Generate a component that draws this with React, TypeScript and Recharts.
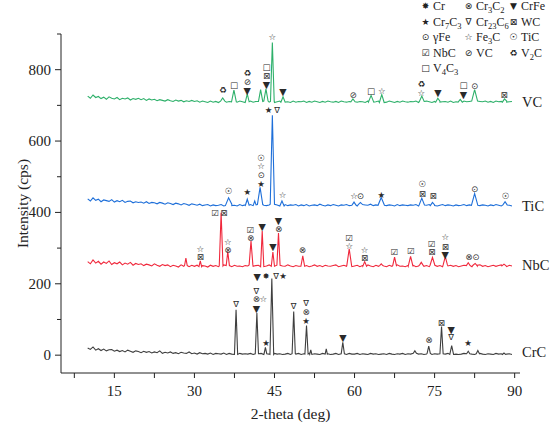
import { ComposedChart, Line, Scatter, XAxis, YAxis } from "recharts";

// baseline readings every 0.5 deg from 10 to 89.5
const gridStart = 10;
const gridStep = 0.5;

const crcBase = [
  20, 16, 23, 14, 18, 13, 17, 12, 15, 16, 11, 14, 10, 13, 9, 14, 11, 8, 12, 10,
  7, 11, 8, 10, 6, 9, 7, 12, 5, 8, 6, 9, 5, 7, 4, 8, 6, 5, 9, 4,
  6, 3, 7, 4, 5, 3, 6, 2, 5, 4, 3, 6, 2, 5, 3, 4, 2, 5, 3, 4,
  3, 5, 2, 4, 3, 5, 2, 4, 3, 2, 5, 3, 4, 2, 3, 5, 2, 4, 3, 5,
  2, 4, 3, 5, 2, 4, 3, 2, 5, 3, 4, 2, 3, 5, 2, 3, 4, 2, 5, 3,
  3, 5, 2, 4, 3, 2, 5, 3, 4, 2, 3, 4, 2, 5, 3, 2, 4, 3, 5, 2,
  4, 3, 2, 5, 3, 4, 2, 3, 5, 2, 4, 3, 2, 4, 3, 5, 2, 4, 3, 2,
  3, 5, 2, 4, 3, 2, 4, 5, 3, 2, 4, 3, 2, 5, 3, 4, 2, 3, 4, 2,
];

const nbcBase = [
  262, 256, 267, 258, 263, 255, 261, 257, 264, 254, 259, 256, 261, 253, 258, 255, 260, 252, 257, 254,
  256, 251, 255, 253, 250, 256, 252, 249, 254, 251, 253, 248, 252, 250, 247, 253, 249, 251, 248, 252,
  249, 252, 248, 251, 250, 247, 252, 249, 251, 248, 250, 253, 249, 251, 248, 252, 249, 250, 248, 251,
  250, 253, 249, 251, 252, 248, 251, 250, 253, 249, 251, 248, 252, 250, 249, 253, 250, 248, 251, 249,
  252, 249, 251, 248, 250, 253, 249, 251, 248, 252, 250, 249, 251, 253, 248, 250, 252, 249, 251, 248,
  250, 252, 248, 251, 249, 253, 250, 248, 252, 249, 251, 250, 248, 252, 249, 251, 253, 249, 250, 248,
  251, 249, 252, 248, 250, 253, 249, 251, 248, 252, 250, 249, 251, 248, 253, 250, 252, 249, 251, 248,
  250, 252, 249, 251, 248, 252, 250, 253, 249, 251, 248, 250, 252, 249, 251, 253, 250, 248, 252, 250,
];

const ticBase = [
  438, 432, 441, 434, 437, 430, 435, 433, 431, 436, 429, 433, 430, 434, 428, 431, 432, 427, 430, 428,
  429, 426, 430, 425, 428, 427, 424, 428, 426, 423, 427, 425, 422, 426, 424, 421, 425, 423, 420, 424,
  422, 420, 423, 419, 421, 422, 418, 421, 419, 420, 422, 418, 421, 419, 423, 420, 418, 422, 419, 421,
  420, 422, 419, 421, 418, 422, 420, 419, 421, 423, 419, 421, 420, 418, 422, 419, 421, 420, 422, 418,
  421, 419, 422, 418, 420, 421, 419, 423, 420, 418, 421, 419, 422, 420, 418, 421, 420, 422, 419, 421,
  420, 418, 422, 419, 421, 420, 423, 419, 421, 418, 420, 422, 419, 421, 420, 418, 422, 419, 421, 420,
  419, 421, 420, 422, 418, 421, 419, 420, 422, 419, 421, 418, 420, 422, 419, 421, 420, 418, 421, 419,
  420, 422, 419, 421, 418, 420, 422, 419, 421, 420, 418, 421, 419, 422, 420, 418, 421, 419, 420, 418,
];

const vcBase = [
  726, 720, 729, 722, 725, 719, 723, 717, 724, 720, 718, 722, 716, 720, 718, 721, 715, 719, 717, 720,
  716, 719, 714, 718, 715, 717, 713, 716, 714, 712, 716, 713, 711, 715, 712, 714, 710, 713, 711, 714,
  711, 713, 709, 712, 710, 708, 712, 709, 711, 708, 710, 712, 709, 711, 708, 710, 709, 712, 710, 708,
  710, 712, 709, 711, 708, 711, 710, 712, 709, 711, 708, 710, 712, 709, 711, 710, 708, 712, 709, 711,
  710, 712, 708, 711, 709, 712, 710, 708, 711, 709, 712, 710, 709, 711, 708, 712, 710, 709, 711, 710,
  712, 709, 711, 710, 708, 712, 709, 711, 710, 712, 708, 711, 709, 712, 710, 708, 711, 709, 712, 710,
  709, 711, 710, 712, 708, 711, 709, 712, 710, 708, 711, 709, 712, 710, 711, 709, 712, 708, 710, 711,
  709, 712, 710, 711, 708, 712, 709, 711, 710, 712, 709, 711, 708, 712, 710, 711, 709, 712, 710, 711,
];

// peaks: [2-theta, top intensity, half width at base]
const crcPeaks = [
  [37.8, 127, 0.3], [41.7, 118, 0.3], [43.3, 22, 0.25], [44.5, 215, 0.35], [48.6, 122, 0.3],
  [51.0, 83, 0.3], [51.8, 15, 0.2], [54.7, 18, 0.2], [57.8, 36, 0.3], [71.3, 12, 0.3],
  [73.9, 25, 0.3], [76.3, 80, 0.3], [78.2, 27, 0.35], [81.3, 11, 0.3], [83.1, 13, 0.3], [88.0, 6, 0.3],
];

const nbcPeaks = [
  [28.4, 272, 0.25], [31.1, 264, 0.25], [35.0, 399, 0.35], [36.25, 290, 0.3], [40.6, 320, 0.35],
  [42.7, 348, 0.3], [44.7, 289, 0.3], [45.75, 342, 0.3], [50.3, 278, 0.35], [59.0, 298, 0.45],
  [61.9, 262, 0.35], [65.0, 256, 0.3], [67.5, 275, 0.35], [70.5, 277, 0.45], [72.5, 260, 0.3],
  [74.6, 274, 0.45], [77.0, 276, 0.4], [81.3, 259, 0.35], [82.6, 257, 0.4], [88.0, 255, 0.4],
];

const ticPeaks = [
  [36.4, 441, 0.6], [39.9, 437, 0.35], [41.3, 432, 0.25], [42.3, 470, 0.5], [44.6, 672, 0.4],
  [46.4, 432, 0.4], [59.9, 429, 0.4], [61.1, 428, 0.4], [65.0, 442, 0.6], [72.6, 440, 0.5],
  [74.6, 428, 0.4], [82.5, 453, 0.6], [88.2, 430, 0.4],
];

const vcPeaks = [
  [35.3, 721, 0.4], [37.4, 743, 0.45], [39.9, 732, 0.35], [42.4, 744, 0.4], [43.4, 746, 0.4],
  [44.6, 876, 0.35], [46.6, 724, 0.4], [59.7, 718, 0.4], [63.1, 728, 0.5], [65.1, 730, 0.45],
  [72.6, 726, 0.45], [75.6, 720, 0.4], [79.8, 717, 0.4], [82.5, 744, 0.55], [88.1, 718, 0.4],
];

// phase marks above peaks: [2-theta, intensity, phase]
const vcMarks = [
  [35.3, 743, "V2C"], [37.4, 757, "V4C3"], [39.9, 791, "V2C"], [39.9, 766, "VC"], [39.9, 742, "CrFe"],
  [43.5, 808, "V4C3"], [43.5, 783, "WC"], [43.5, 758, "CrFe"], [44.6, 891, "Fe3C"], [46.6, 740, "CrFe"],
  [59.7, 729, "VC"], [63.1, 741, "V4C3"], [65.1, 741, "Fe3C"], [72.5, 760, "V2C"], [72.5, 734, "Fe3C"],
  [75.6, 735, "CrFe"], [80.4, 756, "V4C3"], [80.4, 731, "CrFe"], [82.5, 754, "gFe"], [88.0, 729, "WC"],
];

const ticMarks = [
  [43.9, 686, "Cr7C3"], [45.5, 686, "Cr23C6"], [36.4, 459, "TiC"], [39.9, 457, "Cr7C3"],
  [42.5, 553, "TiC"], [42.5, 529, "Fe3C"], [42.5, 505, "gFe"], [42.5, 480, "Cr7C3"],
  [46.5, 450, "Fe3C"], [59.9, 446, "Fe3C"], [61.1, 446, "gFe"], [65.0, 450, "Cr7C3"],
  [72.7, 479, "TiC"], [72.7, 453, "WC"], [74.7, 446, "WC"], [82.5, 466, "gFe"], [88.3, 446, "TiC"],
];

const nbcMarks = [
  [33.9, 397, "NbC"], [35.5, 397, "WC"], [31.1, 298, "Fe3C"], [31.1, 276, "WC"], [36.25, 318, "Fe3C"],
  [36.25, 296, "Cr3C2"], [40.5, 352, "NbC"], [40.5, 329, "Cr3C2"], [42.7, 361, "CrFe"], [45.75, 377, "CrFe"],
  [45.75, 353, "Cr3C2"], [44.7, 305, "CrFe"], [50.2, 294, "Cr3C2"], [59.0, 328, "NbC"], [59.0, 305, "Fe3C"],
  [61.9, 294, "Fe3C"], [61.9, 271, "WC"], [67.5, 288, "NbC"], [70.6, 291, "NbC"], [74.5, 311, "NbC"],
  [74.5, 288, "WC"], [77.0, 330, "Fe3C"], [77.0, 304, "WC"], [77.0, 282, "CrFe"], [81.4, 275, "Cr3C2"],
  [82.7, 275, "gFe"],
];

const crcMarks = [
  [41.75, 221, "CrFe"], [43.4, 223, "Cr"], [45.3, 221, "Cr23C6"], [46.6, 221, "Cr7C3"],
  [41.6, 181, "Cr23C6"], [41.6, 157, "Cr3C2"], [42.9, 157, "Fe3C"], [41.6, 131, "CrFe"],
  [37.8, 143, "Cr23C6"], [43.4, 35, "Cr7C3"], [48.6, 138, "Cr23C6"], [50.9, 147, "Cr23C6"],
  [50.9, 122, "Cr3C2"], [50.9, 97, "Cr7C3"], [57.8, 50, "CrFe"], [73.9, 42, "Cr3C2"],
  [76.25, 90, "WC"], [78.1, 73, "CrFe"], [78.1, 50, "Cr23C6"], [81.25, 33, "Cr7C3"],
];

const sampleNames = ["VC", "TiC", "NbC", "CrC"];
const sampleLabelY = [709, 419, 253, 8];

const legendRows = [
  ["Cr", "Cr3C2", "CrFe"],
  ["Cr7C3", "Cr23C6", "WC"],
  ["gFe", "Fe3C", "TiC"],
  ["NbC", "VC", "V2C"],
  ["V4C3"],
];

const glyphs: Record<string, string> = {
  Cr: "✸", Cr3C2: "⊗", CrFe: "▼", Cr7C3: "★", Cr23C6: "∇", WC: "⊠",
  gFe: "⊙", Fe3C: "☆", TiC: "☉", NbC: "☑", VC: "⊘", V2C: "♻", V4C3: "□",
};

const yTicks = [0, 100, 200, 300, 400, 500, 600, 700, 800, 900];
const xTicks = [7.5, 15, 22.5, 30, 37.5, 45, 52.5, 60, 67.5, 75, 82.5, 90];

const serif = "'Liberation Serif', 'Times New Roman', serif";

function buildPattern(base: number[], peaks: number[][]) {
  const pts: { x: number; y: number }[] = [];
  base.forEach((y, i) => {
    const x = gridStart + i * gridStep;
    if (!peaks.some(([p, , w]) => Math.abs(x - p) < w)) pts.push({ x, y });
  });
  peaks.forEach(([p, top, w]) => {
    const i = Math.min(Math.max(Math.round((p - gridStart) / gridStep), 0), base.length - 1);
    const b = base[i];
    pts.push({ x: p - w, y: b }, { x: p, y: top }, { x: p + w, y: b });
  });
  return pts.sort((a, b) => a.x - b.x);
}

const toMarks = (rows: (string | number)[][]) =>
  rows.map(([x, y, k]) => ({ x: x as number, y: y as number, k: k as string }));

const crc = buildPattern(crcBase, crcPeaks);
const nbc = buildPattern(nbcBase, nbcPeaks);
const tic = buildPattern(ticBase, ticPeaks);
const vc = buildPattern(vcBase, vcPeaks);

const marks = [...toMarks(vcMarks), ...toMarks(ticMarks), ...toMarks(nbcMarks), ...toMarks(crcMarks)];
const nameMarks = sampleNames.map((n, i) => ({ x: 91, y: sampleLabelY[i], name: n }));

const MarkGlyph = (props: any) => {
  const { cx, cy, payload } = props;
  const big = payload.k === "CrFe";
  return (
    <text x={cx} y={cy} textAnchor="middle" dominantBaseline="central"
      fontSize={big ? 9.5 : 8.5} fontFamily="'DejaVu Sans', sans-serif" fill="#2a2a2a">
      {glyphs[payload.k]}
    </text>
  );
};

const NameLabel = (props: any) => {
  const { cx, cy, payload } = props;
  return (
    <text x={cx + 2} y={cy} dy={5} textAnchor="start" fontSize={14.5} fontFamily={serif} fill="#222">
      {payload.name}
    </text>
  );
};

const YTick = (props: any) => {
  const { x, y, payload } = props;
  const major = payload.value % 200 === 0;
  return (
    <g>
      <line x1={x} x2={x - (major ? 6 : 4)} y1={y} y2={y} stroke="#222" />
      {major && (
        <text x={x - 10} y={y} dy={5} textAnchor="end" fontSize={15} fontFamily={serif} fill="#222">
          {payload.value}
        </text>
      )}
    </g>
  );
};

const XTick = (props: any) => {
  const { x, y, payload } = props;
  const major = payload.value % 15 === 0;
  return (
    <g>
      <line x1={x} x2={x} y1={y} y2={y + 5} stroke="#222" />
      {major && (
        <text x={x} y={y + 23} textAnchor="middle" fontSize={15} fontFamily={serif} fill="#222">
          {payload.value}
        </text>
      )}
    </g>
  );
};

function PhaseName({ k }: { k: string }) {
  const text = k === "gFe" ? "γFe" : k;
  return (
    <span>
      {text.split("").map((c, i) =>
        /[0-9]/.test(c) ? (
          <sub key={i} style={{ fontSize: 8.5, lineHeight: 0 }}>{c}</sub>
        ) : (
          <span key={i}>{c}</span>
        )
      )}
    </span>
  );
}

function PhaseLegend() {
  const cols = [420, 463, 508];
  return (
    <div style={{ position: "absolute", left: 0, top: 0, fontFamily: serif, fontSize: 12, color: "#222" }}>
      {legendRows.map((row, r) =>
        row.map((k, c) => (
          <div key={k} style={{ position: "absolute", left: cols[c], top: r * 15.5 - 1, height: 15.5,
            lineHeight: "15.5px", whiteSpace: "nowrap", display: "flex", alignItems: "center" }}>
            <span style={{ fontFamily: "'DejaVu Sans', sans-serif", fontSize: 9, width: 11, textAlign: "center" }}>
              {glyphs[k]}
            </span>
            <span style={{ marginLeft: 2 }}><PhaseName k={k} /></span>
          </div>
        ))
      )}
    </div>
  );
}

export default function App() {
  return (
    <div style={{ position: "absolute", left: 0, top: 0, width: 550, height: 427, background: "#fff" }}>
      <ComposedChart width={550} height={427} margin={{ top: 34, right: 30, bottom: 0, left: 0 }}>
        <XAxis
          type="number"
          dataKey="x"
          domain={[5, 91]}
          ticks={xTicks}
          interval={0}
          tickSize={0}
          tickMargin={0}
          tickLine={false}
          tick={<XTick />}
          height={54}
          axisLine={{ stroke: "#222" }}
          label={({ viewBox }: any) => (
            <text x={viewBox.x + viewBox.width / 2} y={viewBox.y + 46} textAnchor="middle"
              fontSize={15.5} fontFamily={serif} fill="#222">
              2-theta (deg)
            </text>
          )}
        />
        <YAxis
          type="number"
          dataKey="y"
          domain={[-50, 900]}
          ticks={yTicks}
          interval={0}
          tickSize={0}
          tickMargin={0}
          tickLine={false}
          tick={<YTick />}
          width={61}
          axisLine={{ stroke: "#222" }}
          label={({ viewBox }: any) => (
            <text x={22} y={viewBox.y + viewBox.height / 2} transform={`rotate(-90 22 ${viewBox.y + viewBox.height / 2})`}
              textAnchor="middle" dominantBaseline="central" fontSize={15.5} fontFamily={serif} fill="#222">
              Intensity (cps)
            </text>
          )}
        />
        <Line data={crc} dataKey="y" type="linear" stroke="#3f3f3f" strokeWidth={1.1} dot={false} isAnimationActive={false} />
        <Line data={nbc} dataKey="y" type="linear" stroke="#f0283c" strokeWidth={1.1} dot={false} isAnimationActive={false} />
        <Line data={tic} dataKey="y" type="linear" stroke="#1e6fd9" strokeWidth={1.1} dot={false} isAnimationActive={false} />
        <Line data={vc} dataKey="y" type="linear" stroke="#2eb06a" strokeWidth={1.1} dot={false} isAnimationActive={false} />
        <Scatter data={marks} dataKey="y" shape={<MarkGlyph />} isAnimationActive={false} />
        <Scatter data={nameMarks} dataKey="y" shape={<NameLabel />} isAnimationActive={false} />
      </ComposedChart>
      <PhaseLegend />
    </div>
  );
}
